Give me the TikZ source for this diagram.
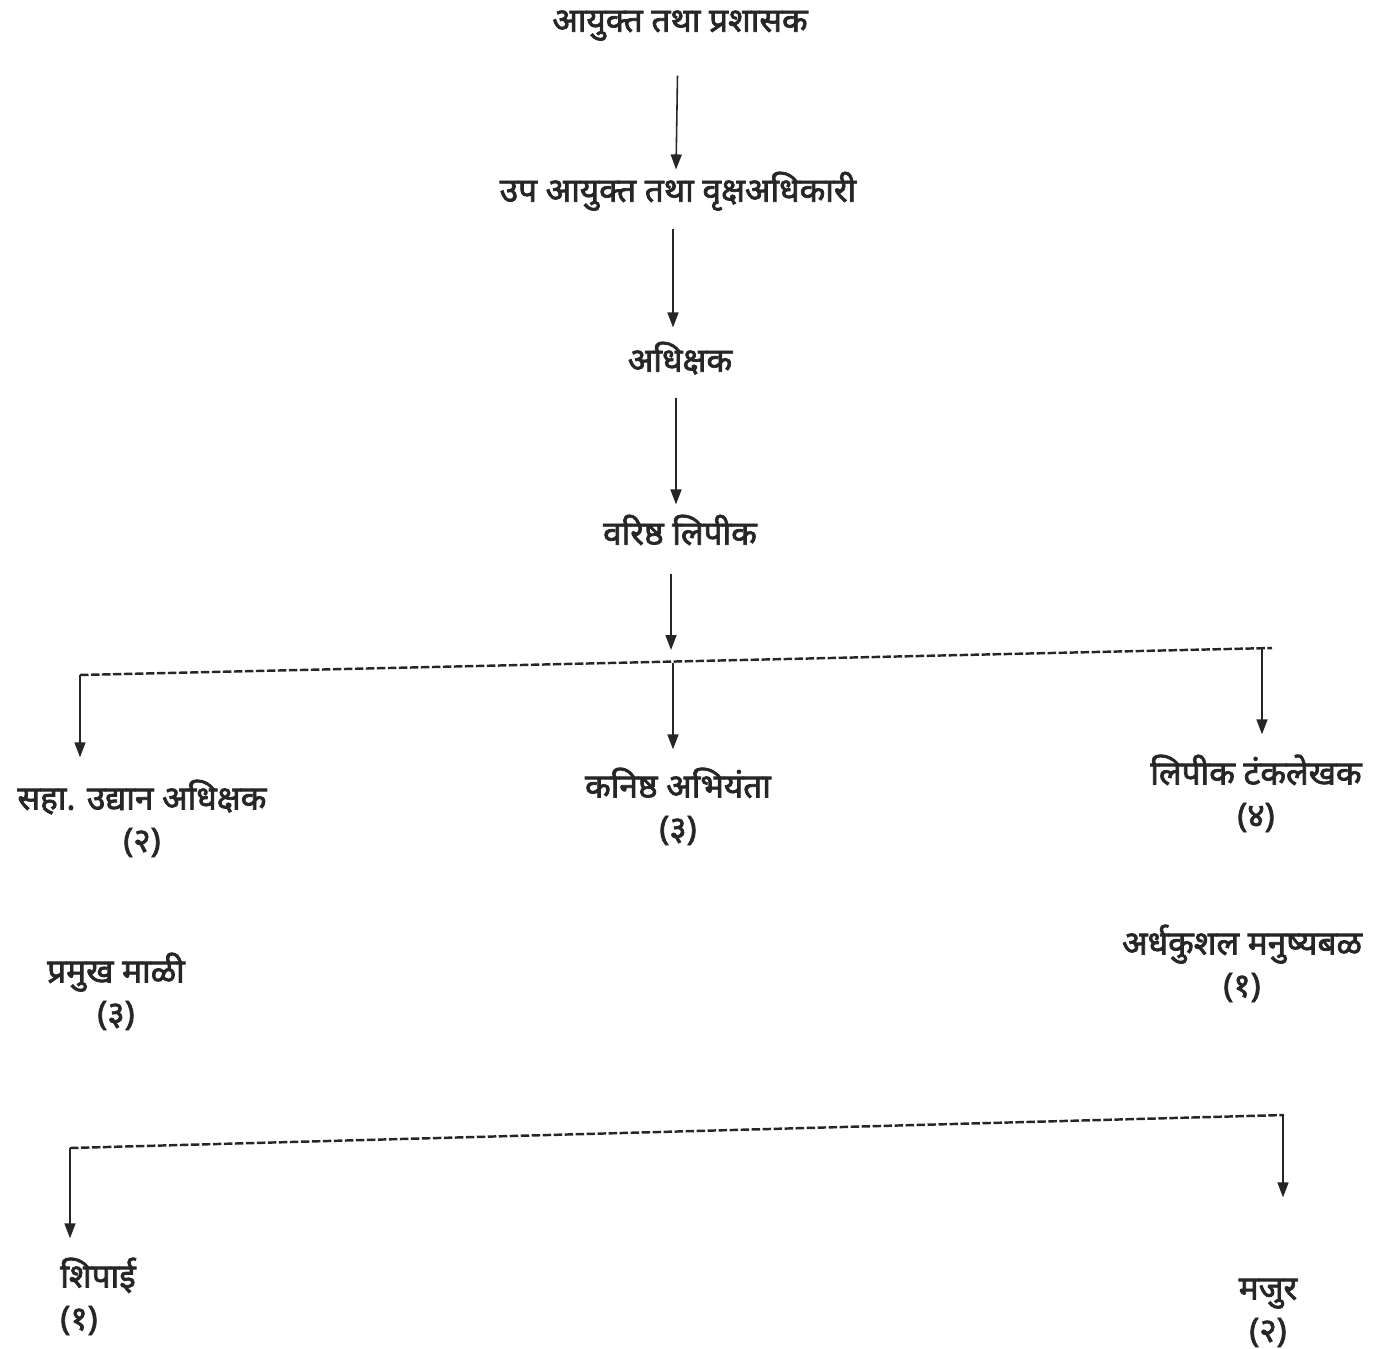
\documentclass[tikz,border=0pt]{standalone}
\usepackage{fontspec}
\newfontfamily\dev[Script=Devanagari, FakeBold=2.2]{Noto Sans}
\usetikzlibrary{arrows.meta}
\newcommand{\topstrut}{\rule{0pt}{17pt}}
\newcommand{\botstrut}{\rule[-6pt]{0pt}{6pt}}
\begin{document}
\begin{tikzpicture}[x=0.02cm,y=-0.02cm,
  base/.style={font=\dev\fontsize{19}{24}\selectfont, inner sep=0pt, align=center, text=black!85},
  lbl/.style={base, text height=17pt, text depth=6pt},
  ml/.style={base},
  arr/.style={-{Triangle[length=0.3cm,width=0.22cm]}, line width=0.9pt, black!85},
  bus/.style={line width=1.4pt, dash pattern=on 0.17cm off 0.05cm, black!85}]
\useasboundingbox (0,0) rectangle (1397,1349);
\node[lbl] (n1) at (680,22) {आयुक्त तथा प्रशासक};
\node[lbl] (n2) at (678,192) {उप आयुक्त तथा वृक्षअधिकारी};
\node[lbl] (n3) at (680,362) {अधिक्षक};
\node[lbl] (n4) at (680,535) {वरिष्ठ लिपीक};
\node[ml] (n5) at (142,821) {\topstrut सहा. उद्यान अधिक्षक\\(२)\botstrut};
\node[ml] (n6) at (678,809) {\topstrut कनिष्ठ अभियंता\\(३)\botstrut};
\node[ml] (n7) at (1256,796) {\topstrut लिपीक टंकलेखक\\(४)\botstrut};
\node[ml] (n8) at (116,994) {\topstrut प्रमुख माळी\\(३)\botstrut};
\node[ml] (n9) at (1242,966) {\topstrut अर्धकुशल मनुष्यबळ\\(१)\botstrut};
\node[ml, align=left] (n10) at (98,1299) {\topstrut शिपाई\\(१)\botstrut};
\node[ml] (n11) at (1268,1311) {\topstrut मजुर\\(२)\botstrut};
% buses and junctions
\coordinate (b1L) at (80,675);
\coordinate (b1R) at (1272,648);
\coordinate (j1) at (671,650);
\coordinate (j1b) at (673,663);
\coordinate (j1r) at (1262,648);
\coordinate (b2L) at (70,1148);
\coordinate (b2R) at (1284,1115);
\draw[bus] (b1L) -- (b1R);
\draw[bus] (b2L) -- (b2R);
% vertical chain
\draw[arr, shorten <=0.66cm, shorten >=0.04cm] ([xshift=-0.04cm]n1.south) -- ([xshift=-0.04cm]n2.north);
\draw[arr, shorten <=0.32cm, shorten >=0.28cm] ([xshift=-0.1cm]n2.south) -- ([xshift=-0.1cm]n2.south |- n3.north);
\draw[arr, shorten <=0.3cm, shorten >=0.2cm] ([xshift=-0.08cm]n3.south) -- ([xshift=-0.08cm]n4.north);
\draw[arr, shorten <=0.36cm] (j1 |- n4.south) -- (j1);
% first tier
\draw[arr, shorten >=0.36cm] (j1b) -- (j1b |- n6.north);
\draw[arr, shorten >=0.44cm] (b1L) -- (b1L |- n5.north);
\draw[arr, shorten >=0.4cm] (j1r) -- (j1r |- n7.north);
% second tier
\draw[arr, shorten >=0.38cm] (b2L) -- (b2L |- n10.north);
\draw[arr, shorten >=1.44cm] ([xshift=-0.02cm]b2R) -- ([xshift=-0.02cm]b2R |- n11.north);
\end{tikzpicture}
\end{document}
